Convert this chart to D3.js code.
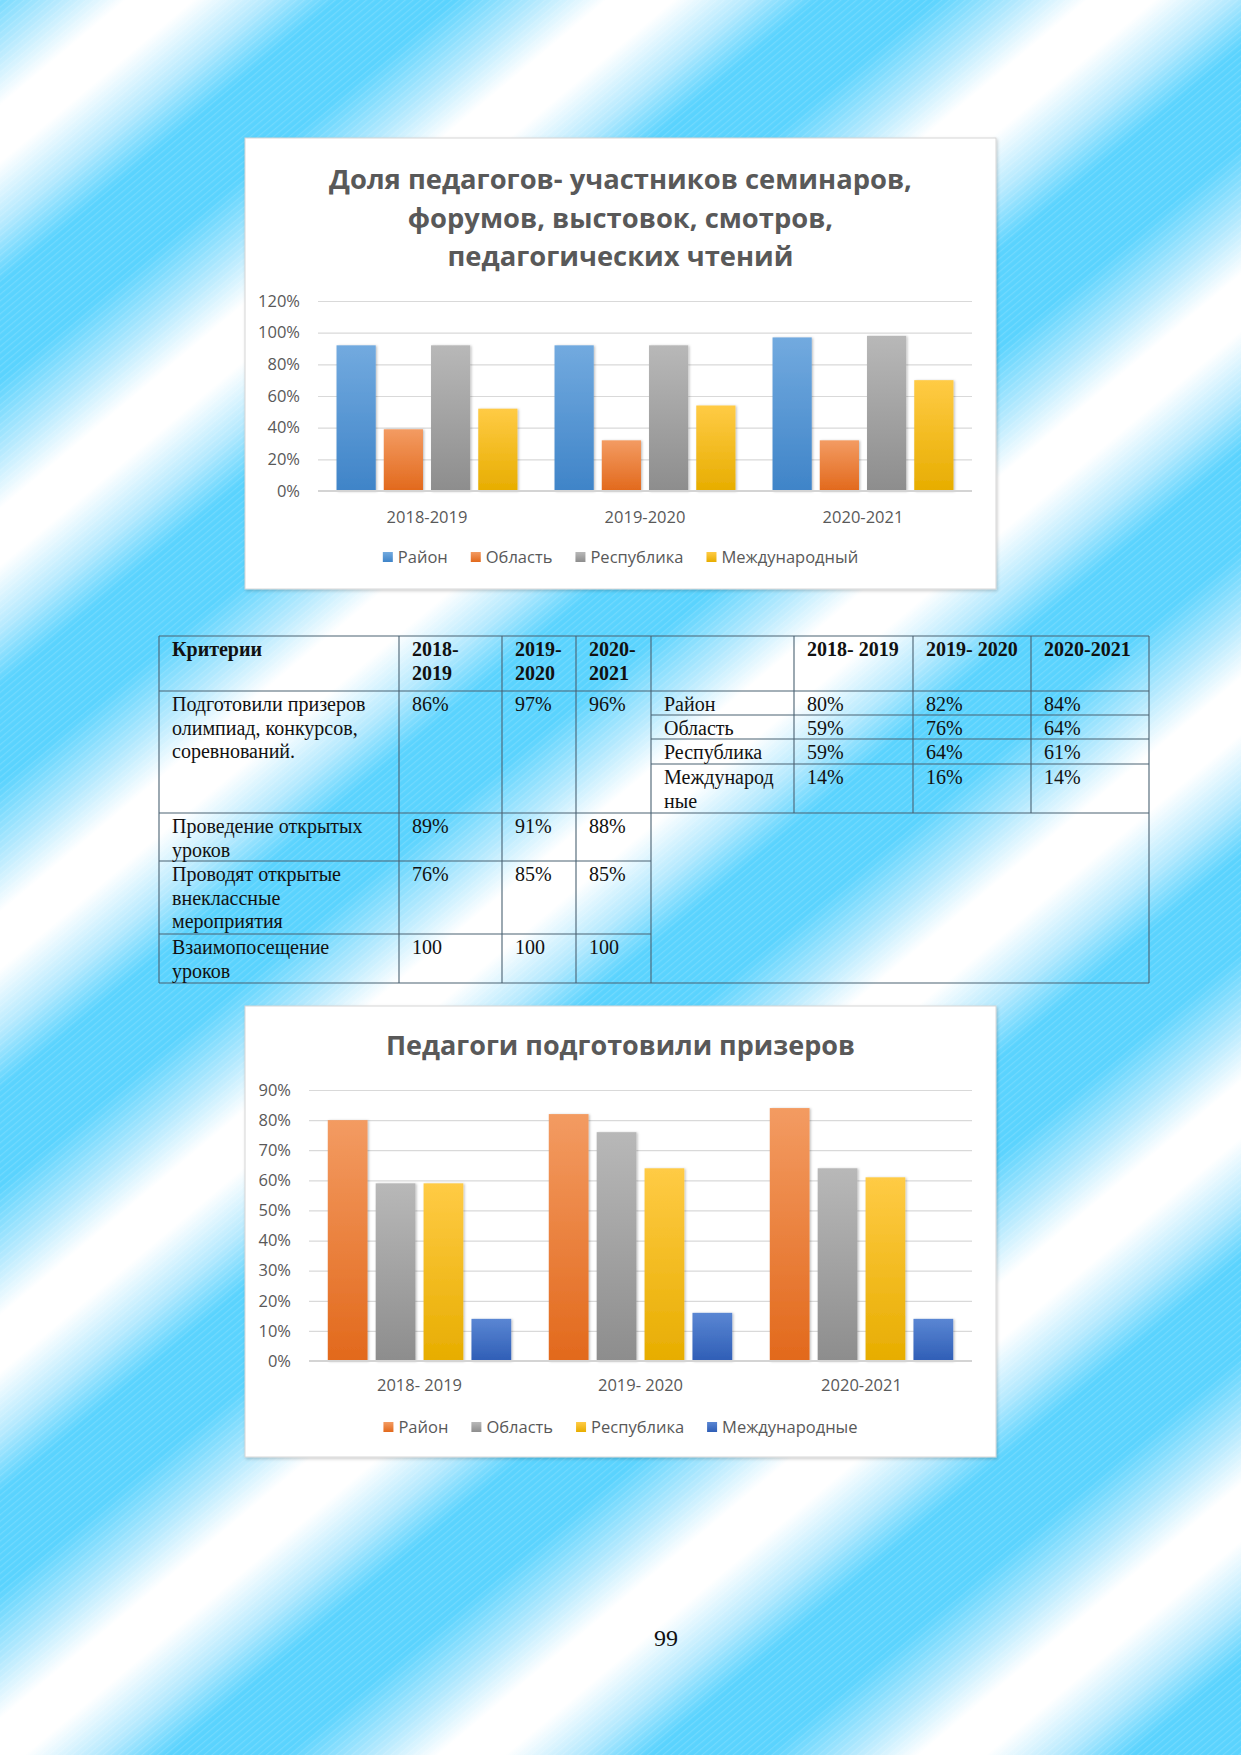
<!DOCTYPE html>
<html><head><meta charset="utf-8">
<script src="https://cdn.jsdelivr.net/npm/d3@7/dist/d3.min.js"></script>
<style>html,body{margin:0;padding:0;overflow:hidden;background:#fff}svg{display:block}</style>
</head><body>
<script>
// ---------------- DATA ----------------
// Chart 1
const years1 = ["2018-2019", "2019-2020", "2020-2021"];
const series1 = ["Район", "Область", "Республика", "Международный"];
const rayon1 = [0.92, 0.92, 0.97];
const oblast1 = [0.39, 0.32, 0.32];
const respublika1 = [0.92, 0.92, 0.98];
const mezhd1 = [0.52, 0.54, 0.70];
const yTicks1 = [0, 0.2, 0.4, 0.6, 0.8, 1.0, 1.2];
const title1 = ["Доля педагогов- участников семинаров,", "форумов, выстовок, смотров,", "педагогических чтений"];

// Chart 2
const years2 = ["2018- 2019", "2019- 2020", "2020-2021"];
const series2 = ["Район", "Область", "Республика", "Международные"];
const rayon2 = [0.80, 0.82, 0.84];
const oblast2 = [0.59, 0.76, 0.64];
const respublika2 = [0.59, 0.64, 0.61];
const mezhd2 = [0.14, 0.16, 0.14];
const yTicks2 = [0, 0.1, 0.2, 0.3, 0.4, 0.5, 0.6, 0.7, 0.8, 0.9];
const title2 = ["Педагоги подготовили призеров"];

// Table (left part)
const tableHeadLeft = [["Критерии"], ["2018-", "2019"], ["2019-", "2020"], ["2020-", "2021"]];
const criteria = [
  ["Подготовили призеров", "олимпиад, конкурсов,", "соревнований."],
  ["Проведение открытых", "уроков"],
  ["Проводят открытые", "внеклассные", "мероприятия"],
  ["Взаимопосещение", "уроков"]
];
const crit1819 = ["86%", "89%", "76%", "100"];
const crit1920 = ["97%", "91%", "85%", "100"];
const crit2021 = ["96%", "88%", "85%", "100"];
// Table (right part)
const tableHeadRight = ["", "2018- 2019", "2019- 2020", "2020-2021"];
const levels = [["Район"], ["Область"], ["Республика"], ["Международ", "ные"]];
const pageNumber = "99";

// ---------------- SETUP ----------------
const W = 1241, H = 1755;
const svg = d3.select("body").append("svg").attr("width", W).attr("height", H);
const defs = svg.append("defs");

// background stripes
const ang = 40 * Math.PI / 180;
const nx = Math.sin(ang), ny = Math.cos(ang);
const period = 309, bx = 554, by = 1480;
const bgG = defs.append("linearGradient").attr("id", "bgGrad")
  .attr("gradientUnits", "userSpaceOnUse").attr("spreadMethod", "repeat")
  .attr("x1", bx).attr("y1", by).attr("x2", bx + nx * period).attr("y2", by + ny * period);
[[0, "#5ad3fe"], [0.12, "#5ad3fe"], [0.3, "#b4e9fe"], [0.44, "#ffffff"], [0.58, "#ffffff"], [0.74, "#b4e9fe"], [0.88, "#5ad3fe"], [1, "#5ad3fe"]]
  .forEach(([o, c]) => bgG.append("stop").attr("offset", o).attr("stop-color", c));
svg.append("rect").attr("width", W).attr("height", H).attr("fill", "url(#bgGrad)");
const pat = defs.append("pattern").attr("id", "streaks").attr("patternUnits", "userSpaceOnUse")
  .attr("width", 8).attr("height", 5).attr("patternTransform", "rotate(-40)");
pat.append("rect").attr("width", 8).attr("height", 1.2).attr("fill", "#ffffff").attr("opacity", 0.14);
svg.append("rect").attr("width", W).attr("height", H).attr("fill", "url(#streaks)");

// filters
const fs = defs.append("filter").attr("id", "boxShadow").attr("x", "-5%").attr("y", "-5%").attr("width", "110%").attr("height", "110%");
fs.append("feDropShadow").attr("dx", 1).attr("dy", 1.5).attr("stdDeviation", 1.5).attr("flood-color", "#000").attr("flood-opacity", 0.2);
const fb = defs.append("filter").attr("id", "barShadow").attr("x", "-20%").attr("y", "-5%").attr("width", "140%").attr("height", "110%");
fb.append("feDropShadow").attr("dx", 1.2).attr("dy", 0.5).attr("stdDeviation", 1.2).attr("flood-color", "#000").attr("flood-opacity", 0.25);

const palettes = {
  blue: ["#72aadf", "#3f84c8"],
  orange: ["#f39b62", "#e2691c"],
  gray: ["#b8b8b8", "#8d8d8d"],
  gold: ["#ffcb45", "#e7ad00"],
  dblue: ["#5a86d3", "#2f5eb6"]
};
Object.entries(palettes).forEach(([k, [t, b]]) => {
  const lg = defs.append("linearGradient").attr("id", "g_" + k).attr("x1", 0).attr("y1", 0).attr("x2", 0).attr("y2", 1);
  lg.append("stop").attr("offset", 0).attr("stop-color", t);
  lg.append("stop").attr("offset", 1).attr("stop-color", b);
});

const SANS = "'Open Sans', 'Noto Sans', sans-serif";
const SERIF = "'Liberation Serif', 'Times New Roman', serif";
const TXT = "#595959";

function drawChart(cfg) {
  const g = svg.append("g");
  const [bx0, by0, bx1, by1] = cfg.box;
  g.append("rect").attr("x", bx0).attr("y", by0).attr("width", bx1 - bx0).attr("height", by1 - by0)
    .attr("fill", "#fff").attr("stroke", "#d6d6d6").attr("filter", "url(#boxShadow)");
  const cx = (bx0 + bx1) / 2;
  const tt = g.append("text").attr("text-anchor", "middle").attr("font-family", SANS)
    .attr("font-weight", 700).attr("fill", TXT).attr("font-size", 30);
  cfg.title.forEach((line, i) => tt.append("tspan").attr("x", cx).attr("y", cfg.titleY + i * cfg.titleLH).text(line));
  const w0 = tt.select("tspan").node().getComputedTextLength();
  tt.attr("font-size", 30 * cfg.titleW / w0);

  const { x0: px0, x1: px1, y0: py0, y1: py1 } = cfg.plot;
  const y = d3.scaleLinear().domain([0, cfg.yMax]).range([py0, py1]);
  const xb = d3.scaleBand().domain(cfg.cats).range([px0, px1]).paddingInner(0.17).paddingOuter(0.085);
  const xs = d3.scaleBand().domain(cfg.series).range([0, xb.bandwidth()]).paddingInner(0.17);

  const ax = d3.axisLeft(y).tickValues(cfg.ticks).tickFormat(d3.format(".0%"))
    .tickSize(-(px1 - px0)).tickPadding(18);
  const ag = g.append("g").attr("transform", `translate(${px0},0)`).call(ax);
  ag.select(".domain").remove();
  ag.selectAll(".tick line").attr("stroke", "#d9d9d9").attr("stroke-width", 1.2);
  ag.selectAll(".tick text").attr("fill", TXT).attr("font-family", SANS).attr("font-size", cfg.fs);

  const data = cfg.cats.map((c, i) => ({ cat: c, vals: cfg.series.map((s, j) => ({ s, v: cfg.values[j][i], col: cfg.colors[j] })) }));
  const grp = g.append("g").selectAll("g").data(data).join("g")
    .attr("transform", d => `translate(${xb(d.cat)},0)`);
  grp.selectAll("rect").data(d => d.vals).join("rect")
    .attr("x", d => xs(d.s)).attr("width", xs.bandwidth())
    .attr("y", d => y(d.v)).attr("height", d => y(0) - y(d.v))
    .attr("fill", d => `url(#g_${d.col})`).attr("filter", "url(#barShadow)");

  g.append("line").attr("x1", px0).attr("x2", px1).attr("y1", y(0)).attr("y2", y(0))
    .attr("stroke", "#d4d4d4").attr("stroke-width", 2);

  const xa = d3.axisBottom(xb).tickSize(0).tickPadding(0);
  const xg = g.append("g").attr("transform", `translate(0,${py0})`).call(xa);
  xg.select(".domain").remove();
  xg.selectAll(".tick text").attr("fill", TXT).attr("font-family", SANS).attr("font-size", cfg.fs)
    .attr("y", cfg.catY - py0).attr("dy", "0.35em");

  // legend
  const lg = g.append("g");
  const items = lg.selectAll("g").data(cfg.series.map((s, j) => ({ s, col: cfg.colors[j] }))).join("g");
  items.append("rect").attr("width", 10).attr("height", 10).attr("y", cfg.legY - 5)
    .attr("fill", d => `url(#g_${d.col})`);
  items.append("text").attr("x", 15).attr("y", cfg.legY).attr("dy", "0.35em")
    .attr("fill", TXT).attr("font-family", SANS).attr("font-size", cfg.fs).text(d => d.s);
  let xpos = 0; const pos = [];
  items.each(function () { pos.push(xpos); xpos += 15 + d3.select(this).select("text").node().getComputedTextLength() + 23; });
  const total = xpos - 23;
  const start = cx - total / 2;
  items.attr("transform", (d, i) => `translate(${start + pos[i]},0)`);
}

drawChart({
  box: [245, 138, 996, 589], title: title1, titleY: 189, titleLH: 38.5, titleW: 583,
  plot: { x0: 318, x1: 972, y0: 491, y1: 301 }, yMax: 1.2, ticks: yTicks1,
  cats: years1, series: series1, values: [rayon1, oblast1, respublika1, mezhd1],
  colors: ["blue", "orange", "gray", "gold"], catY: 517, legY: 557, fs: 16.5
});
drawChart({
  box: [245, 1006, 996, 1457], title: title2, titleY: 1055, titleLH: 38, titleW: 469,
  plot: { x0: 309, x1: 972, y0: 1361, y1: 1090 }, yMax: 0.9, ticks: yTicks2,
  cats: years2, series: series2, values: [rayon2, oblast2, respublika2, mezhd2],
  colors: ["orange", "gray", "gold", "dblue"], catY: 1385, legY: 1427, fs: 16.5
});

// ---------------- TABLE ----------------
const tg = svg.append("g");
const colL = [159, 399, 502, 576, 651];
const colR = [651, 794, 913, 1031, 1149];
const rowL = [636, 691, 813, 861, 934, 983];
const rowR = [636, 691, 715, 739, 764, 813];
const LC = "#4a6272";
const lines = [];
lines.push([colL[0], rowL[0], colR[4], rowL[0]]);
lines.push([colL[0], rowL[5], colR[4], rowL[5]]);
lines.push([colL[0], rowL[1], colR[4], rowL[1]]);
rowL.slice(2, 5).forEach(yv => lines.push([colL[0], yv, colL[4], yv]));
rowR.slice(2, 6).forEach(yv => lines.push([colR[0], yv, colR[4], yv]));
colL.forEach(xv => lines.push([xv, rowL[0], xv, rowL[5]]));
colR.slice(1, 4).forEach(xv => lines.push([xv, rowR[0], xv, rowR[5]]));
lines.push([colR[4], rowL[0], colR[4], rowL[5]]);
tg.selectAll("line").data(lines).join("line")
  .attr("x1", d => d[0]).attr("y1", d => d[1]).attr("x2", d => d[2]).attr("y2", d => d[3])
  .attr("stroke", LC).attr("stroke-width", 1.1);

const LH = 23.5, FS = 20, PADX = 13, BASE = 20;
function cell(x, yTop, linesArr, bold) {
  const t = tg.append("text").attr("font-family", SERIF).attr("font-size", FS).attr("fill", "#111")
    .attr("font-weight", bold ? 700 : 400);
  linesArr.forEach((ln, i) => t.append("tspan").attr("x", x + PADX).attr("y", yTop + BASE + i * LH).text(ln));
}
tableHeadLeft.forEach((h, i) => cell(colL[i], rowL[0], h, true));
tableHeadRight.forEach((h, i) => { if (h) cell(colR[i], rowR[0], [h], true); });
criteria.forEach((c, r) => {
  cell(colL[0], rowL[r + 1], c, false);
  cell(colL[1], rowL[r + 1], [crit1819[r]], false);
  cell(colL[2], rowL[r + 1], [crit1920[r]], false);
  cell(colL[3], rowL[r + 1], [crit2021[r]], false);
});
const fmt = d3.format(".0%");
const lvlVals = [rayon2, oblast2, respublika2, mezhd2];
levels.forEach((lv, r) => {
  cell(colR[0], rowR[r + 1], lv, false);
  for (let k = 0; k < 3; k++) cell(colR[k + 1], rowR[r + 1], [fmt(lvlVals[r][k])], false);
});

// page number
svg.append("text").attr("x", 666).attr("y", 1646).attr("text-anchor", "middle")
  .attr("font-family", SERIF).attr("font-size", 24).attr("fill", "#111").text(pageNumber);
</script>
</body></html>
